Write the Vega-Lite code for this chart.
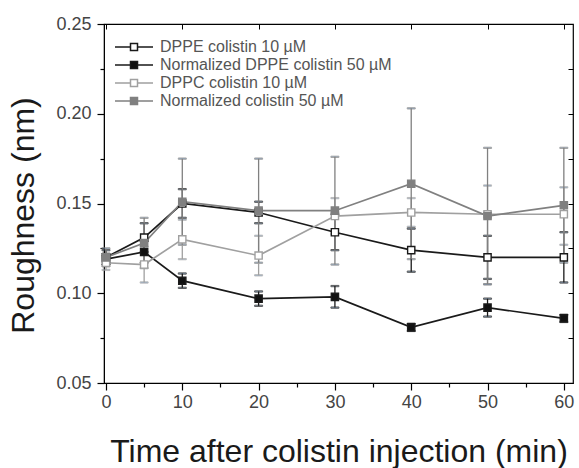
{
  "$schema": "https://vega.github.io/schema/vega-lite/v6.json",
  "width": 469,
  "height": 359,
  "autosize": "none",
  "padding": {"left": 104, "top": 24, "right": 6, "bottom": 85},
  "background": "white",
  "config": {
    "view": {"stroke": "#000", "strokeWidth": 1.2},
    "legend": {"orient": "none", "legendX": 22, "legendY": 15, "title": null, "padding": 0,
      "symbolSize": 100, "symbolStrokeWidth": 1.5, "labelFont": "Liberation Sans", "labelFontSize": 16,
      "labelColor": "#555", "labelOffset": 18, "rowPadding": 2, "labelLimit": 400, "symbolOpacity": 1,
      "symbolType": "M-3.8,0H-0.7M0.7,0H3.8M-0.7,-0.7H0.7V0.7H-0.7Z"}
  },
  "data": {"values": [
    {"t": 0, "s": "DPPE colistin 10 µM", "y": 0.120, "lo": 0.116, "hi": 0.124},
    {"t": 5, "s": "DPPE colistin 10 µM", "y": 0.131, "lo": 0.123, "hi": 0.139},
    {"t": 10, "s": "DPPE colistin 10 µM", "y": 0.150, "lo": 0.142, "hi": 0.158},
    {"t": 20, "s": "DPPE colistin 10 µM", "y": 0.145, "lo": 0.139, "hi": 0.151},
    {"t": 30, "s": "DPPE colistin 10 µM", "y": 0.134, "lo": 0.124, "hi": 0.144},
    {"t": 40, "s": "DPPE colistin 10 µM", "y": 0.124, "lo": 0.112, "hi": 0.136},
    {"t": 50, "s": "DPPE colistin 10 µM", "y": 0.120, "lo": 0.108, "hi": 0.132},
    {"t": 60, "s": "DPPE colistin 10 µM", "y": 0.120, "lo": 0.106, "hi": 0.134},
    {"t": 0, "s": "Normalized DPPE colistin 50 µM", "y": 0.119, "lo": 0.116, "hi": 0.122},
    {"t": 5, "s": "Normalized DPPE colistin 50 µM", "y": 0.123, "lo": 0.117, "hi": 0.129},
    {"t": 10, "s": "Normalized DPPE colistin 50 µM", "y": 0.107, "lo": 0.103, "hi": 0.111},
    {"t": 20, "s": "Normalized DPPE colistin 50 µM", "y": 0.097, "lo": 0.093, "hi": 0.101},
    {"t": 30, "s": "Normalized DPPE colistin 50 µM", "y": 0.098, "lo": 0.092, "hi": 0.104},
    {"t": 40, "s": "Normalized DPPE colistin 50 µM", "y": 0.081, "lo": 0.079, "hi": 0.083},
    {"t": 50, "s": "Normalized DPPE colistin 50 µM", "y": 0.092, "lo": 0.087, "hi": 0.097},
    {"t": 60, "s": "Normalized DPPE colistin 50 µM", "y": 0.086, "lo": 0.084, "hi": 0.088},
    {"t": 0, "s": "DPPC colistin 10 µM", "y": 0.117, "lo": 0.113, "hi": 0.121},
    {"t": 5, "s": "DPPC colistin 10 µM", "y": 0.116, "lo": 0.106, "hi": 0.126},
    {"t": 10, "s": "DPPC colistin 10 µM", "y": 0.130, "lo": 0.119, "hi": 0.141},
    {"t": 20, "s": "DPPC colistin 10 µM", "y": 0.121, "lo": 0.110, "hi": 0.132},
    {"t": 30, "s": "DPPC colistin 10 µM", "y": 0.143, "lo": 0.133, "hi": 0.153},
    {"t": 40, "s": "DPPC colistin 10 µM", "y": 0.145, "lo": 0.137, "hi": 0.153},
    {"t": 50, "s": "DPPC colistin 10 µM", "y": 0.144, "lo": 0.105, "hi": 0.160},
    {"t": 60, "s": "DPPC colistin 10 µM", "y": 0.144, "lo": 0.127, "hi": 0.159},
    {"t": 0, "s": "Normalized colistin 50 µM", "y": 0.120, "lo": 0.115, "hi": 0.125},
    {"t": 5, "s": "Normalized colistin 50 µM", "y": 0.128, "lo": 0.114, "hi": 0.142},
    {"t": 10, "s": "Normalized colistin 50 µM", "y": 0.151, "lo": 0.127, "hi": 0.175},
    {"t": 20, "s": "Normalized colistin 50 µM", "y": 0.146, "lo": 0.117, "hi": 0.175},
    {"t": 30, "s": "Normalized colistin 50 µM", "y": 0.146, "lo": 0.116, "hi": 0.176},
    {"t": 40, "s": "Normalized colistin 50 µM", "y": 0.161, "lo": 0.119, "hi": 0.203},
    {"t": 50, "s": "Normalized colistin 50 µM", "y": 0.143, "lo": 0.105, "hi": 0.181},
    {"t": 60, "s": "Normalized colistin 50 µM", "y": 0.149, "lo": 0.117, "hi": 0.181}
  ]},
  "resolve": {"axis": {"x": "independent", "y": "independent"}},
  "layer": [
    {
      "mark": {"type": "errorbar", "ticks": {"size": 8}, "thickness": 1.3},
      "encoding": {
        "x": {"field": "t", "type": "quantitative", "scale": {"domain": [-0.26, 61.2], "nice": false, "zero": false},
          "axis": {"orient": "top", "labels": false, "domain": false, "values": [0, 10, 20, 30, 40, 50, 60], "tickSize": -5, "tickColor": "#000", "grid": false, "title": null}},
        "y": {"field": "lo", "type": "quantitative", "scale": {"domain": [0.05, 0.25], "nice": false, "zero": false},
          "axis": {"orient": "right", "labels": false, "domain": false, "values": [0.075, 0.1, 0.125, 0.15, 0.175, 0.2, 0.225], "tickSize": -5, "tickColor": "#000", "grid": false, "title": null}},
        "y2": {"field": "hi"},
        "stroke": {"field": "s", "type": "nominal",
          "scale": {"domain": ["DPPE colistin 10 µM", "Normalized DPPE colistin 50 µM", "DPPC colistin 10 µM", "Normalized colistin 50 µM"],
                    "range": ["#1a1a1a", "#1a1a1a", "#a0a0a0", "#808080"]}}
      }
    },
    {
      "mark": {"type": "line", "strokeWidth": 1.7},
      "encoding": {
        "x": {"field": "t", "type": "quantitative", "axis": null},
        "y": {"field": "y", "type": "quantitative", "axis": null},
        "stroke": {"field": "s", "type": "nominal"},
        "order": {"field": "t"}
      }
    },
    {
      "mark": {"type": "point", "shape": "square", "filled": false, "size": 52, "strokeWidth": 1.4, "opacity": 1},
      "encoding": {
        "x": {"field": "t", "type": "quantitative",
          "axis": {"orient": "bottom", "values": [0, 5, 10, 15, 20, 25, 30, 35, 40, 45, 50, 55, 60],
            "labelExpr": "datum.value % 10 == 0 ? datum.label : ''",
            "tickSize": {"condition": {"test": "datum.value % 10 != 0", "value": 4}, "value": 7},
            "grid": false, "domainColor": "#000", "tickColor": "#000", "tickWidth": 1.2,
            "labelFont": "Liberation Sans", "labelFontSize": 18, "labelColor": "#444", "labelPadding": 3,
            "labelFlush": false, "labelOverlap": false,
            "title": "Time after colistin injection (min)", "titleFont": "Liberation Sans", "titleFontSize": 32,
            "titleFontWeight": "normal", "titleColor": "#1a1a1a", "titlePadding": 25}},
        "y": {"field": "y", "type": "quantitative",
          "axis": {"orient": "left", "values": [0.05, 0.075, 0.1, 0.125, 0.15, 0.175, 0.2, 0.225, 0.25],
            "labelExpr": "abs(datum.value*20 - round(datum.value*20)) < 0.1 ? format(datum.value, '.2f') : ''",
            "tickSize": {"condition": {"test": "abs(datum.value*20 - round(datum.value*20)) > 0.1", "value": 4}, "value": 7},
            "grid": false, "domainColor": "#000", "tickColor": "#000", "tickWidth": 1.2,
            "labelFont": "Liberation Sans", "labelFontSize": 18, "labelColor": "#444", "labelPadding": 6,
            "labelFlush": false, "labelOverlap": false,
            "title": "Roughness (nm)", "titleFont": "Liberation Sans", "titleFontSize": 32, "titleY": 191,
            "titleFontWeight": "normal", "titleColor": "#1a1a1a", "titlePadding": 15}},
        "stroke": {"field": "s", "type": "nominal"},
        "fill": {"field": "s", "type": "nominal",
          "scale": {"domain": ["DPPE colistin 10 µM", "Normalized DPPE colistin 50 µM", "DPPC colistin 10 µM", "Normalized colistin 50 µM"],
                    "range": ["#ffffff", "#111111", "#ffffff", "#808080"]}}
      }
    }
  ]
}
